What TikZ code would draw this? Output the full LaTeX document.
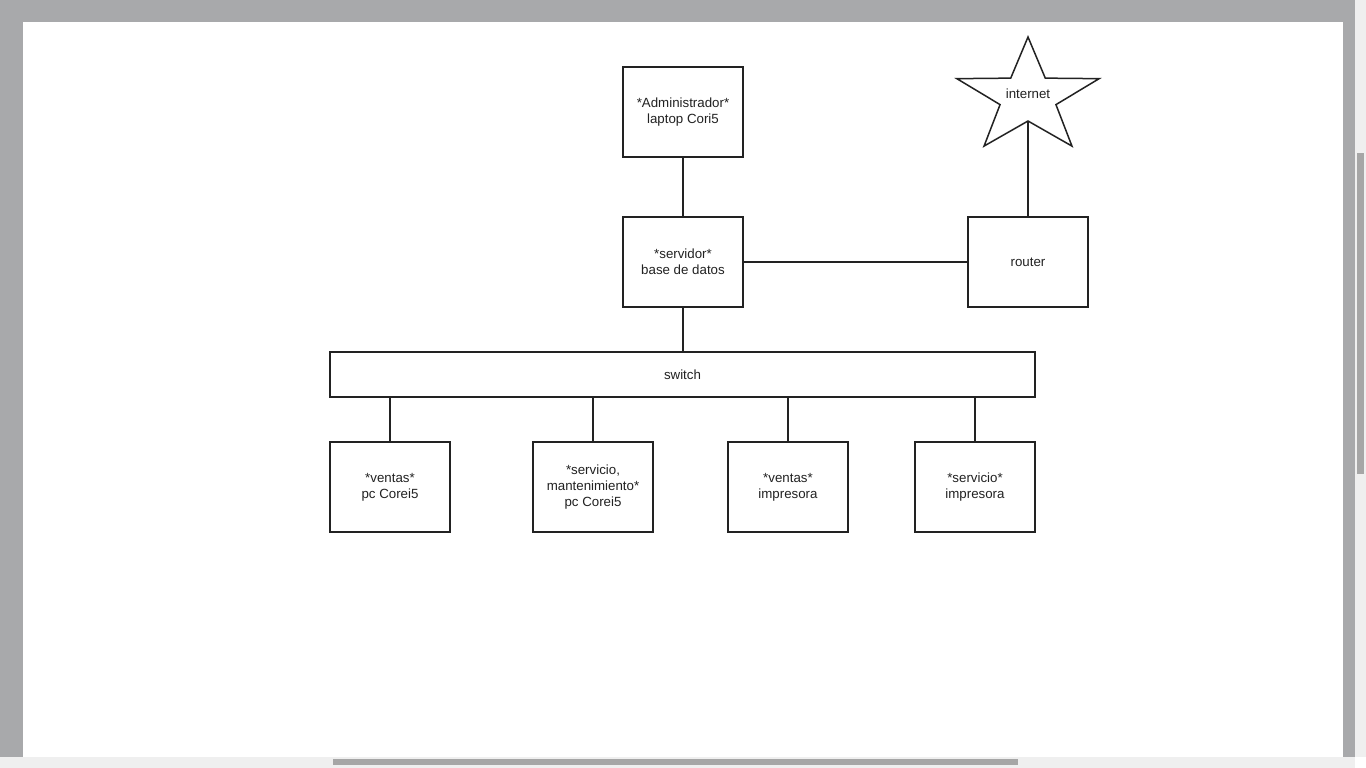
\documentclass[tikz,border=0pt]{standalone}
\usepackage{fontspec}
\setmainfont{Liberation Sans}
\definecolor{frame}{HTML}{A8A9AB}
\definecolor{track}{HTML}{EFEFEF}
\definecolor{thumb}{HTML}{A6A6A6}
\definecolor{ink}{HTML}{222222}
\tikzset{
  equipo/.style={draw=ink,line width=1.5pt,fill=white,minimum width=120pt,minimum height=90pt,
    inner sep=0pt,align=center,text=ink,font=\fontsize{13.3}{16}\selectfont},
  cable/.style={draw=ink,line width=1.5pt}
}
\begin{document}
\begin{tikzpicture}[x=1pt,y=-1pt]
  \useasboundingbox (0,0) rectangle (1366,768);
  % ventana
  \fill[frame] (0,0) rectangle (1366,768);
  \fill[white] (23,22) rectangle (1343,757);
  \fill[track] (0,757) rectangle (1355,768);
  \fill[track] (1355,0) rectangle (1366,757);
  \fill[white] (1355,757) rectangle (1366,768);
  \fill[thumb] (333,759) rectangle (1018,765);
  \fill[thumb] (1357,153) rectangle (1364,474);
  % equipos
  \node[equipo] (admin) at (683,112) {*Administrador*\\laptop Cori5};
  \node[equipo] (servidor) at (683,262) {*servidor*\\base de datos};
  \node[equipo] (router) at (1028,262) {router};
  \node[equipo,minimum width=705pt,minimum height=45pt] (switch) at (682.5,374.5) {switch};
  \node[equipo] (ventaspc) at (390,487) {*ventas*\\pc Corei5};
  \node[equipo] (serviciopc) at (593,487) {*servicio,\\mantenimiento*\\pc Corei5};
  \node[equipo] (ventasimp) at (788,487) {*ventas*\\impresora};
  \node[equipo] (servicioimp) at (975,487) {*servicio*\\impresora};
  % estrella
  \draw[cable,line join=miter] ({1028},{97.3-60.3})
    \foreach \a/\r in {126/23.7,162/60.3,198/23.7,234/60.3,270/23.7,306/60.3,342/23.7,18/60.3,54/23.7}
      { -- ({1028+1.24*\r*cos(\a)},{97.3-\r*sin(\a)}) } -- cycle;
  \node[text=ink,font=\fontsize{13.3}{16}\selectfont] (internet) at (1028,93.5) {internet};
  \coordinate (netbase) at (1028,121);
  % conexiones
  \draw[cable] (admin) -- (servidor);
  \draw[cable] (servidor) -- (router);
  \draw[cable] (router) -- (netbase);
  \draw[cable] (servidor.south) -- (servidor.south |- switch.north);
  \draw[cable] (ventaspc.north) -- (ventaspc.north |- switch.south);
  \draw[cable] (serviciopc.north) -- (serviciopc.north |- switch.south);
  \draw[cable] (ventasimp.north) -- (ventasimp.north |- switch.south);
  \draw[cable] (servicioimp.north) -- (servicioimp.north |- switch.south);
\end{tikzpicture}
\end{document}
